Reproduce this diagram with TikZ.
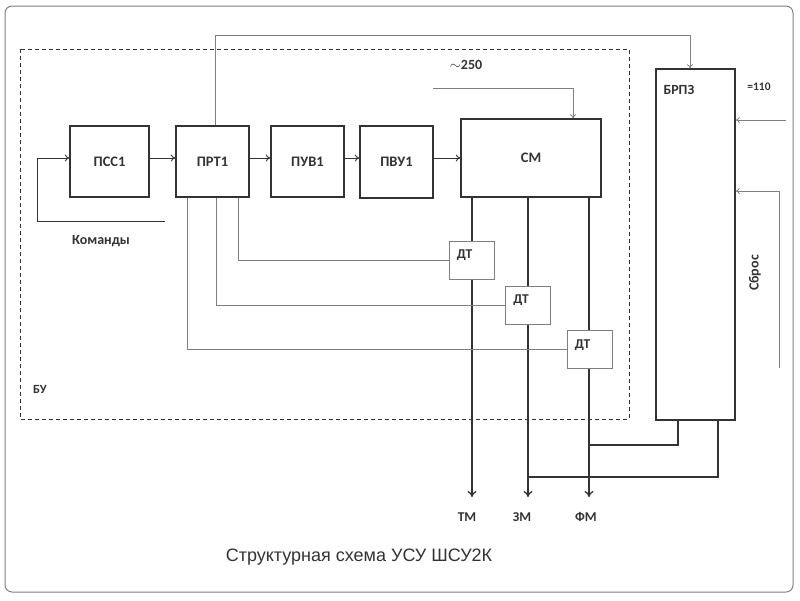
\documentclass[tikz,border=0pt]{standalone}
\usepackage{fontspec}
\setmainfont{Carlito}
\newfontfamily\titlefont{Liberation Sans}
\usetikzlibrary{arrows.meta}
\definecolor{dk}{HTML}{333333}
\definecolor{gr}{HTML}{808080}
\tikzset{
  blk/.style={draw=dk, line width=1.4pt, font=\bfseries\fontsize{14.5}{16}\selectfont, text=dk, inner sep=0pt},
  dtbox/.style={draw=gr, line width=0.9pt, fill=white, minimum width=45pt, minimum height=38pt, inner sep=0pt},
  lbl/.style={font=\bfseries\fontsize{13.5}{15}\selectfont, text=dk, inner sep=0pt},
  arr/.style={draw=dk, line width=0.9pt, -{To[length=4.5pt,width=7pt]}},
  darr/.style={draw=dk, line width=1.3pt, -{To[length=6pt,width=9pt]}},
  garr/.style={draw=gr, line width=0.8pt, -{To[length=4pt,width=6pt]}},
  gline/.style={draw=gr, line width=0.8pt},
  dline/.style={draw=dk, line width=1.3pt}
}
\begin{document}
\begin{tikzpicture}[x=1pt,y=-1pt]
\useasboundingbox (0,0) rectangle (800,600);
\draw[gr, line width=1pt, rounded corners=7pt] (5,6) rectangle (793,592);
\draw[dk, line width=0.9pt, dash pattern=on 4pt off 3pt] (20,49) rectangle (629,419);

% blocks
\node[blk, minimum width=79pt, minimum height=71pt] (pss) at (109.5,161.5) {ПСС1};
\node[blk, minimum width=73pt, minimum height=71pt] (prt) at (212.5,161.5) {ПРТ1};
\node[blk, minimum width=73pt, minimum height=71pt] (puv) at (307.5,161.5) {ПУВ1};
\node[blk, minimum width=73pt, minimum height=72pt] (pvu) at (396.5,162) {ПВУ1};
\node[blk, minimum width=140pt, minimum height=78pt] (cm) at (531,158) {СМ};
\node[blk, minimum width=79pt, minimum height=351pt,
  label={[lbl, font=\bfseries\fontsize{14}{16}\selectfont, anchor=north west, xshift=8pt, yshift=-17pt]north west:БРПЗ}] (brpz) at (695.5,244.5) {};

% chain arrows
\coordinate (k0) at (165,221);
\coordinate (k1) at (37,221);
\draw[arr] (k0) -- (k1) |- ([yshift=3.5pt]pss.west);
\draw[arr] ([yshift=3.5pt]pss.east) -- ([yshift=3.5pt]prt.west);
\draw[arr] ([yshift=3.5pt]prt.east) -- ([yshift=3.5pt]puv.west);
\draw[arr] ([yshift=3.5pt]puv.east) -- ([yshift=4pt]pvu.west);
\draw[arr] (pvu.east |- cm.west) -- (cm.west);

% outputs of CM
\coordinate (tm) at (472,497);
\coordinate (zm) at (528,497);
\coordinate (fm) at (589,497);
\draw[darr] (cm.south -| tm) -- (tm);
\draw[darr] (cm.south -| zm) -- (zm);
\draw[darr] (cm.south -| fm) -- (fm);

% BRPZ bottom links
\coordinate (j1) at (589,445);
\coordinate (j2) at (528,477);
\draw[dline] ([xshift=-17.5pt]brpz.south) |- (j1);
\draw[dline] ([xshift=22.5pt]brpz.south) |- (j2);

% DT boxes
\node[dtbox, label={[lbl, anchor=north west, xshift=8pt, yshift=-9pt]north west:ДТ}] (dt1) at (471.5,260) {};
\node[dtbox, label={[lbl, anchor=north west, xshift=8pt, yshift=-9pt]north west:ДТ}] (dt2) at (528,305) {};
\node[dtbox, label={[lbl, anchor=north west, xshift=8pt, yshift=-9pt]north west:ДТ}] (dt3) at (589.5,349.5) {};
\draw[gline] ([xshift=25.5pt]prt.south) |- (dt1.west);
\draw[gline] ([xshift=3.5pt]prt.south) |- (dt2.west);
\draw[gline] ([xshift=-25.5pt]prt.south) |- (dt3.west);

% top link to BRPZ
\draw[garr] ([xshift=2.5pt]prt.north) -- ++(0,-90) -| ([xshift=-5.5pt]brpz.north);

% ~250 input
\coordinate (s250) at (433,88);
\draw[garr] (s250) -| ([xshift=42pt]cm.north);

% right inputs
\coordinate (s110) at (786,120);
\draw[garr] (s110) -- (s110 -| brpz.east);
\coordinate (sb0) at (779,368);
\coordinate (sb1) at (779,191);
\draw[garr] (sb0) -- (sb1) -- (sb1 -| brpz.east);

% labels
\node[lbl, font=\bfseries\fontsize{14}{16}\selectfont] (tkom) at (101,241) {Команды};
\node[lbl, font=\bfseries\fontsize{14}{16}\selectfont] (t250) at (466,65) {$\sim$250};
\node[lbl, font=\bfseries\fontsize{11.5}{13}\selectfont] (t110) at (759,87) {=110};
\node[lbl, font=\bfseries\fontsize{14}{16}\selectfont, rotate=90] (tsb) at (755,273) {Сброс};
\node[lbl, font=\bfseries\fontsize{12.5}{14}\selectfont] (tbu) at (40,389) {БУ};
\node[lbl] (ttm) at (467,517) {ТМ};
\node[lbl] (tzm) at (522,517) {ЗМ};
\node[lbl] (tfm) at (586,517) {ФМ};
\node[font=\titlefont\fontsize{18}{20}\selectfont, text=dk] (title) at (359,557) {Структурная схема УСУ ШСУ2К};
\end{tikzpicture}
\end{document}
